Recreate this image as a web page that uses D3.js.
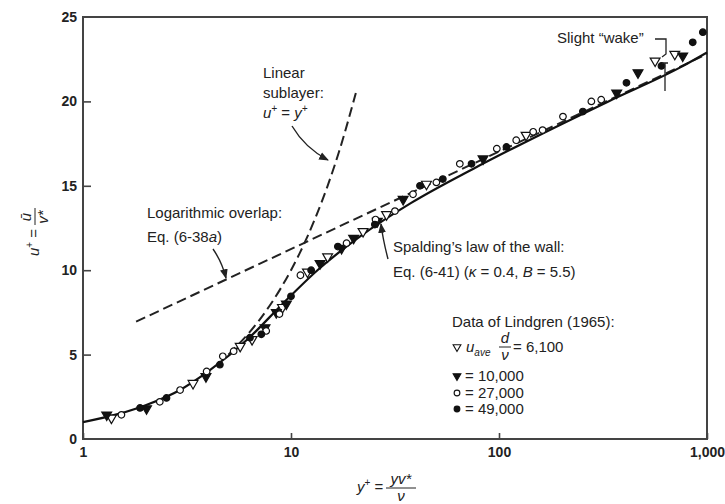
<!DOCTYPE html>
<html>
<head>
<meta charset="utf-8">
<script src="https://cdn.jsdelivr.net/npm/d3@7"></script>
<style>
  body { margin: 0; background: #fff; }
  svg { font-family: "Liberation Sans", Arial, sans-serif; }
  .ann { font-size: 15px; fill: #222; }
</style>
</head>
<body>
<svg id="chart" width="725" height="504"></svg>
<script>
// axis ticks
const xTicks = [1, 10, 100, 1000];
const yTicks = [0, 5, 10, 15, 20, 25];

// Spalding's law of the wall
const spaldingY = [1, 1.5, 2, 3, 4, 6.3, 9.1, 13.4, 21.5, 38, 75, 156, 336, 740, 1000];
const spaldingU = [1, 1.5, 2, 2.98, 4, 6, 8, 10, 12, 14, 16, 18, 20, 22, 22.9];

// log overlap (dashed) and linear sublayer (dashed)
const logY = [1.8, 1000];
const logU = [6.95, 22.8];
const linY = [5, 7, 9, 11, 13, 15, 17, 20.5];
const linU = [5, 7, 9, 11, 13, 15, 17, 20.5];

// Lindgren (1965) data, [y+, u+]
const re6100 = [[1.37, 1.25], [3.38, 3.3], [5.7, 5.5], [6.5, 5.9], [9.1, 7.8], [12, 9.9], [15, 10.8],
  [22.2, 12.3], [28.8, 13.3], [44.8, 15.1], [135, 18.0], [563, 22.4], [700, 22.8]];
const re10000 = [[1.3, 1.43], [2.02, 1.8], [3.9, 3.7], [7.5, 6.6], [8.5, 7.5], [9.5, 8.0], [13.8, 10.4],
  [17.5, 11.3], [20, 11.9], [26, 12.9], [34.6, 14.2], [83.8, 16.6], [368, 20.5], [466, 21.7], [764, 22.7]];
const re27000 = [[1.53, 1.43], [2.34, 2.2], [2.93, 2.9], [3.93, 4.0], [4.7, 4.9], [5.3, 5.2], [7.6, 6.4],
  [8.8, 7.4], [11.1, 9.7], [18.5, 11.6], [25.5, 13.0], [31.6, 13.5], [38.6, 14.5], [50, 15.2], [64.8, 16.3],
  [97.6, 17.2], [121, 17.7], [146, 18.2], [162, 18.3], [203, 19.1], [278, 20.0], [310, 20.1]];
const re49000 = [[1.88, 1.84], [2.52, 2.43], [4.55, 4.4], [6.35, 6.0], [7.2, 6.2], [10, 8.45], [12.5, 10.0],
  [16.8, 11.4], [25.3, 12.7], [41.7, 15.0], [53.7, 15.4], [73.8, 16.3], [108.6, 17.3], [253, 19.4],
  [410, 21.1], [604, 22.1], [854, 23.5], [955, 24.1]];

const svg = d3.select("#chart");
const ink = "#222";

const x = d3.scaleLog().domain([1, 1000]).range([83, 707]);
const y = d3.scaleLinear().domain([0, 25]).range([439, 17]);

svg.append("defs").append("marker")
  .attr("id", "arrow")
  .attr("viewBox", "0 0 10 10")
  .attr("refX", 9).attr("refY", 5)
  .attr("markerWidth", 7).attr("markerHeight", 7)
  .attr("orient", "auto")
  .append("path")
  .attr("d", "M0,1 L10,5 L0,9 Z")
  .attr("fill", ink);

// frame
svg.append("rect")
  .attr("x", x(1)).attr("y", y(25))
  .attr("width", x(1000) - x(1)).attr("height", y(0) - y(25))
  .attr("fill", "none").attr("stroke", "#444").attr("stroke-width", 2);

// axes with inward ticks
const xAxis = svg.append("g")
  .attr("transform", `translate(0,${y(0)})`)
  .call(d3.axisBottom(x).tickValues(xTicks).tickSize(-6).tickPadding(8).tickFormat(d3.format(",")));
const yAxis = svg.append("g")
  .attr("transform", `translate(${x(1)},0)`)
  .call(d3.axisLeft(y).tickValues(yTicks).tickSize(-8).tickPadding(6));
[xAxis, yAxis].forEach(g => {
  g.select(".domain").remove();
  g.selectAll("line").attr("stroke", "#444").attr("stroke-width", 1.6);
  g.selectAll("text").attr("fill", ink).style("font-size", "14px").style("font-weight", "bold")
    .style("font-family", "'Liberation Sans', Arial, sans-serif");
});
yAxis.selectAll(".tick").filter(d => d === 0 || d === 25).select("line").remove();

// curves
const line = d3.line().x(d => x(d[0])).y(d => y(d[1])).curve(d3.curveMonotoneX);

svg.append("path")
  .datum(logY.map((v, i) => [v, logU[i]]))
  .attr("d", line)
  .attr("fill", "none").attr("stroke", ink).attr("stroke-width", 2)
  .attr("stroke-dasharray", "10,5");

svg.append("path")
  .datum(linY.map((v, i) => [v, linU[i]]))
  .attr("d", line)
  .attr("fill", "none").attr("stroke", ink).attr("stroke-width", 2)
  .attr("stroke-dasharray", "10,5");

svg.append("path")
  .datum(spaldingY.map((v, i) => [v, spaldingU[i]]))
  .attr("d", line)
  .attr("fill", "none").attr("stroke", "#111").attr("stroke-width", 2.2);

// data markers
const triDown = d3.symbol().type(d3.symbolTriangle).size(42);
const circ = d3.symbol().type(d3.symbolCircle).size(34);
const series = [
  { data: re6100, sym: triDown, fill: "#fff", rot: 180 },
  { data: re10000, sym: triDown, fill: "#111", rot: 180 },
  { data: re27000, sym: circ, fill: "#fff", rot: 0 },
  { data: re49000, sym: circ, fill: "#111", rot: 0 }
];
series.forEach(s => {
  svg.append("g").selectAll("path")
    .data(s.data)
    .join("path")
    .attr("d", s.sym)
    .attr("transform", d => `translate(${x(d[0])},${y(d[1])}) rotate(${s.rot})`)
    .attr("fill", s.fill)
    .attr("stroke", "#111").attr("stroke-width", 1.2);
});

// annotations
const ann = svg.append("g").attr("class", "ann");
function arrow(d) {
  ann.append("path").attr("d", d).attr("fill", "none")
    .attr("stroke", ink).attr("stroke-width", 1.4).attr("marker-end", "url(#arrow)");
}

ann.append("text").attr("x", 263).attr("y", 78).text("Linear");
ann.append("text").attr("x", 263).attr("y", 98).text("sublayer:");
const lt = ann.append("text").attr("x", 263).attr("y", 118).style("font-style", "italic");
lt.append("tspan").text("u");
lt.append("tspan").attr("dy", -6).style("font-size", "10px").text("+");
lt.append("tspan").attr("dy", 6).style("font-style", "normal").text(" = ");
lt.append("tspan").text("y");
lt.append("tspan").attr("dy", -6).style("font-size", "10px").text("+");
arrow("M292,126 Q305,148 328,160");

ann.append("text").attr("x", 147).attr("y", 218).text("Logarithmic overlap:");
const et = ann.append("text").attr("x", 147).attr("y", 242).text("Eq. (6-38");
et.append("tspan").style("font-style", "italic").text("a");
et.append("tspan").text(")");
arrow("M213,249 Q222,262 226,278");

ann.append("text").attr("x", 393).attr("y", 252).text("Spalding\u2019s law of the wall:");
const st = ann.append("text").attr("x", 393).attr("y", 277).text("Eq. (6-41)  (");
st.append("tspan").style("font-style", "italic").text("\u03ba");
st.append("tspan").text(" = 0.4, ");
st.append("tspan").style("font-style", "italic").text("B");
st.append("tspan").text(" = 5.5)");
arrow("M388,259 Q383,240 381,224");

// wake
ann.append("text").attr("x", 557).attr("y", 43).text("Slight \u201cwake\u201d");
ann.append("path").attr("d", "M655,39 H666 V54 L662,57")
  .attr("fill", "none").attr("stroke", ink).attr("stroke-width", 1.3);
ann.append("path").attr("d", "M665,63 V91 M662,63 H668")
  .attr("fill", "none").attr("stroke", ink).attr("stroke-width", 1.3);

// legend
const lg = svg.append("g").attr("class", "ann");
lg.append("text").attr("x", 452).attr("y", 327).text("Data of Lindgren (1965):");
const legendRows = [
  { sym: triDown, fill: "#fff", rot: 180, y: 347 },
  { sym: triDown, fill: "#111", rot: 180, y: 376 },
  { sym: circ, fill: "#fff", rot: 0, y: 393 },
  { sym: circ, fill: "#111", rot: 0, y: 409 }
];
legendRows.forEach(r => {
  lg.append("path").attr("d", r.sym.size(26))
    .attr("transform", `translate(457,${r.y}) rotate(${r.rot})`)
    .attr("fill", r.fill).attr("stroke", "#111").attr("stroke-width", 1.1);
});
triDown.size(42); circ.size(34);
const r1 = lg.append("text").attr("x", 466).attr("y", 352);
r1.append("tspan").style("font-style", "italic").text("u");
r1.append("tspan").attr("dy", 4).style("font-size", "10px").style("font-style", "italic").text("ave");
lg.append("text").attr("x", 505).attr("y", 343).attr("text-anchor", "middle").style("font-style", "italic").text("d");
lg.append("line").attr("x1", 499).attr("x2", 511).attr("y1", 347).attr("y2", 347).attr("stroke", ink).attr("stroke-width", 1);
lg.append("text").attr("x", 505).attr("y", 360).attr("text-anchor", "middle").style("font-style", "italic").text("\u03bd");
lg.append("text").attr("x", 513).attr("y", 352).text("= 6,100");
lg.append("text").attr("x", 465).attr("y", 381).text("= 10,000");
lg.append("text").attr("x", 465).attr("y", 398).text("= 27,000");
lg.append("text").attr("x", 465).attr("y", 414).text("= 49,000");

// x axis label
const xl = svg.append("g").attr("class", "ann");
const xt = xl.append("text").attr("x", 357).attr("y", 492);
xt.append("tspan").style("font-style", "italic").text("y");
xt.append("tspan").attr("dy", -6).style("font-size", "10px").text("+");
xt.append("tspan").attr("dy", 6).text(" =");
xl.append("text").attr("x", 401).attr("y", 484).attr("text-anchor", "middle").style("font-style", "italic").text("yv*");
xl.append("line").attr("x1", 386).attr("x2", 416).attr("y1", 488).attr("y2", 488).attr("stroke", ink).attr("stroke-width", 1);
xl.append("text").attr("x", 401).attr("y", 501).attr("text-anchor", "middle").style("font-style", "italic").text("\u03bd");

// y axis label (rotated)
const yl = svg.append("g").attr("class", "ann").attr("transform", "translate(34,228) rotate(-90)");
const yt = yl.append("text").attr("x", -28).attr("y", 5);
yt.append("tspan").style("font-style", "italic").text("u");
yt.append("tspan").attr("dy", -6).style("font-size", "10px").text("+");
yt.append("tspan").attr("dy", 6).text(" =");
yl.append("text").attr("x", 11).attr("y", -3).attr("text-anchor", "middle").style("font-style", "italic").text("\u016b");
yl.append("line").attr("x1", 3).attr("x2", 20).attr("y1", 1).attr("y2", 1).attr("stroke", ink).attr("stroke-width", 1);
yl.append("text").attr("x", 11).attr("y", 14).attr("text-anchor", "middle").style("font-style", "italic").text("v*");
</script>
</body>
</html>
